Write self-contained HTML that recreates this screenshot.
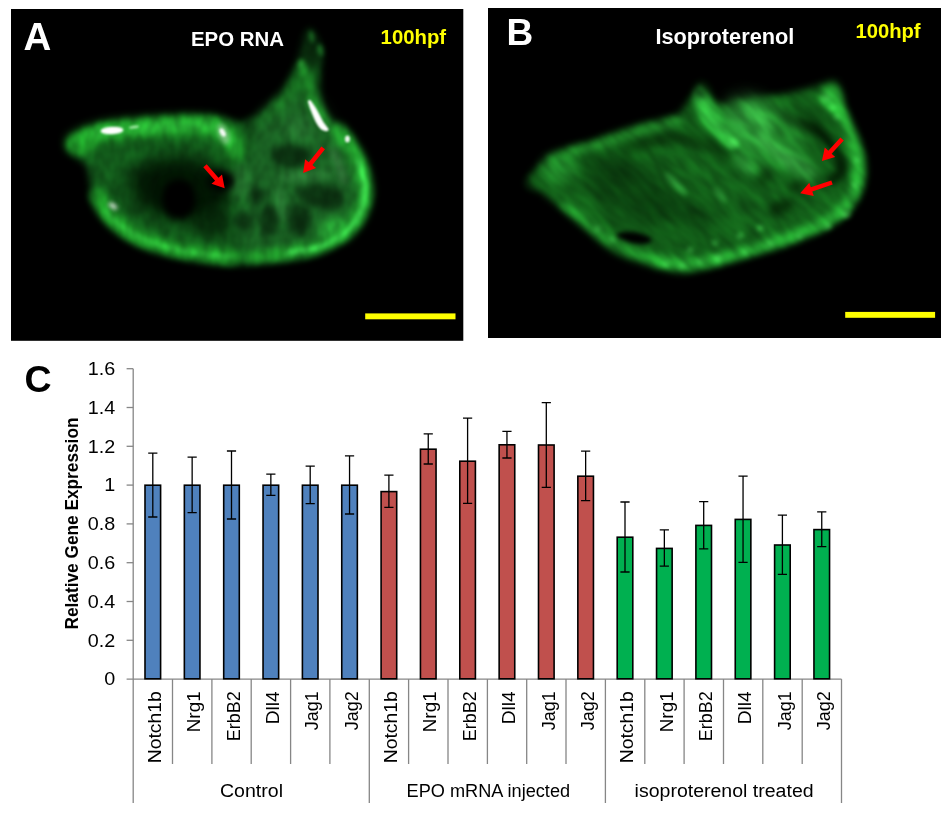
<!DOCTYPE html>
<html lang="en"><head><meta charset="utf-8"><title>Figure</title>
<style>
html,body{margin:0;padding:0;background:#fff;}
svg{display:block;}
text{font-family:"Liberation Sans",sans-serif;}
.b{font-weight:bold;}
</style></head><body>
<svg width="950" height="822" viewBox="0 0 950 822">
<defs>
<filter id="bl1" filterUnits="userSpaceOnUse" x="0" y="0" width="950" height="350" color-interpolation-filters="sRGB"><feGaussianBlur stdDeviation="1"/></filter>
<filter id="bl2" filterUnits="userSpaceOnUse" x="0" y="0" width="950" height="350" color-interpolation-filters="sRGB"><feGaussianBlur stdDeviation="2"/></filter>
<filter id="bl3" filterUnits="userSpaceOnUse" x="0" y="0" width="950" height="350" color-interpolation-filters="sRGB"><feGaussianBlur stdDeviation="3.5"/></filter>
<filter id="bl5" filterUnits="userSpaceOnUse" x="0" y="0" width="950" height="350" color-interpolation-filters="sRGB"><feGaussianBlur stdDeviation="5"/></filter>
<filter id="bl8" filterUnits="userSpaceOnUse" x="0" y="0" width="950" height="350" color-interpolation-filters="sRGB"><feGaussianBlur stdDeviation="8"/></filter>
<filter id="texA" filterUnits="userSpaceOnUse" x="11" y="9" width="453" height="332" color-interpolation-filters="sRGB">
<feTurbulence type="fractalNoise" baseFrequency="0.1 0.06" numOctaves="2" seed="4" result="n"/>
<feColorMatrix in="n" type="matrix" values="0 1 0 0 0  0 1 0 0 0  0 1 0 0 0  0 0 0 0 1" result="g"/>
<feComposite in="SourceGraphic" in2="g" operator="arithmetic" k1="0.6" k2="0.7" k3="0" k4="0" result="c"/>
<feGaussianBlur in="c" stdDeviation="0.8"/>
</filter>
<filter id="texB" filterUnits="userSpaceOnUse" x="350" y="-200" width="700" height="750" color-interpolation-filters="sRGB">
<feTurbulence type="fractalNoise" baseFrequency="0.035 0.1" numOctaves="2" seed="11" result="n"/>
<feColorMatrix in="n" type="matrix" values="0 1 0 0 0  0 1 0 0 0  0 1 0 0 0  0 0 0 0 1" result="g"/>
<feComposite in="SourceGraphic" in2="g" operator="arithmetic" k1="0.7" k2="0.65" k3="0" k4="0" result="c"/>
<feGaussianBlur in="c" stdDeviation="0.8"/>
</filter>
<clipPath id="cA"><rect x="11" y="9" width="452.3" height="331.8"/></clipPath>
<clipPath id="cB"><rect x="488" y="8" width="453" height="330"/></clipPath>
</defs>
<rect width="950" height="822" fill="#fff"/>

<g id="panelA">
<rect x="11" y="9" width="452.3" height="331.8" fill="#000"/>
<g clip-path="url(#cA)"><g filter="url(#texA)">
<path d="M66.0 146.0C65.8 142.7 68.5 139.2 73.0 136.0C77.5 132.8 84.0 129.5 93.0 127.0C102.0 124.5 115.8 122.5 127.0 121.0C138.2 119.5 149.0 118.8 160.0 118.0C171.0 117.2 183.0 116.0 193.0 116.0C203.0 116.0 212.2 117.0 220.0 118.0C227.8 119.0 234.3 122.2 240.0 122.0C245.7 121.8 249.3 120.0 254.0 117.0C258.7 114.0 263.2 108.7 268.0 104.0C272.8 99.3 279.0 94.2 283.0 89.0C287.0 83.8 289.7 77.5 292.0 73.0C294.3 68.5 295.5 66.3 297.0 62.0C298.5 57.7 299.7 51.8 301.0 47.0C302.3 42.2 303.3 36.0 305.0 33.0C306.7 30.0 308.8 27.8 311.0 29.0C313.2 30.2 316.2 36.2 318.0 40.0C319.8 43.8 321.7 46.5 322.0 52.0C322.3 57.5 320.3 66.0 320.0 73.0C319.7 80.0 319.0 87.0 320.0 94.0C321.0 101.0 322.8 109.8 326.0 115.0C329.2 120.2 334.7 121.2 339.0 125.0C343.3 128.8 348.2 132.7 352.0 138.0C355.8 143.3 359.0 150.0 362.0 157.0C365.0 164.0 368.5 173.7 370.0 180.0C371.5 186.3 371.3 190.3 371.0 195.0C370.7 199.7 370.5 202.3 368.0 208.0C365.5 213.7 361.5 222.7 356.0 229.0C350.5 235.3 343.5 241.2 335.0 246.0C326.5 250.8 317.0 255.2 305.0 258.0C293.0 260.8 274.3 261.8 263.0 263.0C251.7 264.2 245.8 265.2 237.0 265.0C228.2 264.8 220.0 263.3 210.0 262.0C200.0 260.7 188.2 259.5 177.0 257.0C165.8 254.5 152.5 250.8 143.0 247.0C133.5 243.2 126.7 239.0 120.0 234.0C113.3 229.0 107.7 222.8 103.0 217.0C98.3 211.2 94.2 205.2 92.0 199.0C89.8 192.8 91.2 185.8 90.0 180.0C88.8 174.2 87.7 168.0 85.0 164.0C82.3 160.0 77.2 159.0 74.0 156.0C70.8 153.0 66.2 149.3 66.0 146.0Z" fill="#12581a" filter="url(#bl3)"/>
<path d="M250.0 130.0C258.3 115.8 278.7 100.0 290.0 95.0C301.3 90.0 310.5 94.2 318.0 100.0C325.5 105.8 328.8 120.0 335.0 130.0C341.2 140.0 350.5 149.2 355.0 160.0C359.5 170.8 363.7 183.3 362.0 195.0C360.3 206.7 355.3 220.8 345.0 230.0C334.7 239.2 315.8 246.3 300.0 250.0C284.2 253.7 260.8 256.2 250.0 252.0C239.2 247.8 236.7 237.0 235.0 225.0C233.3 213.0 237.5 195.8 240.0 180.0C242.5 164.2 241.7 144.2 250.0 130.0Z" fill="#2f7a3a" opacity="0.28" filter="url(#bl8)"/>
<ellipse cx="307" cy="46" rx="16" ry="24" fill="#000" opacity="0.55" filter="url(#bl5)"/>
<ellipse cx="180" cy="188" rx="52" ry="32" fill="#021403" opacity="0.92" filter="url(#bl8)" transform="rotate(6 180 188)"/>
<ellipse cx="183" cy="192" rx="36" ry="22" fill="#021403" opacity="0.6" filter="url(#bl5)" transform="rotate(6 183 192)"/>
<ellipse cx="212" cy="222" rx="18" ry="16" fill="#031a05" opacity="0.7" filter="url(#bl5)"/>
<ellipse cx="291" cy="156" rx="21" ry="12" fill="#08240c" opacity="0.8" filter="url(#bl3)"/>
<ellipse cx="269.5" cy="220" rx="10" ry="16" fill="#08240c" opacity="0.8" filter="url(#bl3)"/>
<ellipse cx="299" cy="220" rx="12" ry="17" fill="#08240c" opacity="0.8" filter="url(#bl3)"/>
<ellipse cx="322" cy="196" rx="24" ry="12" fill="#08240c" opacity="0.8" filter="url(#bl3)" transform="rotate(12 322 196)"/>
<ellipse cx="257" cy="195" rx="8" ry="8" fill="#08240c" opacity="0.8" filter="url(#bl3)"/>
<ellipse cx="244" cy="222" rx="8" ry="11" fill="#08240c" opacity="0.8" filter="url(#bl3)"/>
<path d="M251.0 122.0C251.0 124.2 251.7 130.3 251.0 135.0C250.3 139.7 247.7 147.5 247.0 150.0" fill="none" stroke="#031803" stroke-width="6" stroke-linecap="round" stroke-linejoin="round" opacity="0.5" filter="url(#bl5)"/>
<path d="M76.0 143.0C78.3 141.8 84.3 138.0 90.0 136.0C95.7 134.0 101.7 132.3 110.0 131.0C118.3 129.7 130.0 128.8 140.0 128.0C150.0 127.2 160.3 126.5 170.0 126.0C179.7 125.5 190.0 124.7 198.0 125.0C206.0 125.3 212.7 125.8 218.0 128.0C223.3 130.2 227.2 134.2 230.0 138.0C232.8 141.8 234.2 148.8 235.0 151.0" fill="none" stroke="#1f9a28" stroke-width="19" stroke-linecap="round" stroke-linejoin="round" filter="url(#bl5)"/>
<path d="M76.0 143.0C78.3 141.8 84.3 138.0 90.0 136.0C95.7 134.0 101.7 132.3 110.0 131.0C118.3 129.7 130.0 128.8 140.0 128.0C150.0 127.2 160.3 126.5 170.0 126.0C179.7 125.5 190.0 124.7 198.0 125.0C206.0 125.3 212.7 125.8 218.0 128.0C223.3 130.2 227.2 134.2 230.0 138.0C232.8 141.8 234.2 148.8 235.0 151.0" fill="none" stroke="#25a830" stroke-width="11" stroke-linecap="round" stroke-linejoin="round" opacity="0.8" filter="url(#bl3)"/>
<path d="M90.0 136.0C93.3 135.2 101.7 132.3 110.0 131.0C118.3 129.7 130.0 128.8 140.0 128.0C150.0 127.2 160.3 126.5 170.0 126.0C179.7 125.5 190.0 124.7 198.0 125.0C206.0 125.3 212.7 125.8 218.0 128.0C223.3 130.2 228.0 136.3 230.0 138.0" fill="none" stroke="#30c03c" stroke-width="6" stroke-linecap="round" stroke-linejoin="round" opacity="0.75" filter="url(#bl3)"/>
<path d="M98.0 196.0C99.3 198.5 102.2 206.0 106.0 211.0C109.8 216.0 114.5 221.2 121.0 226.0C127.5 230.8 136.0 236.2 145.0 240.0C154.0 243.8 164.2 246.5 175.0 249.0C185.8 251.5 200.5 253.7 210.0 255.0C219.5 256.3 228.3 256.7 232.0 257.0" fill="none" stroke="#1f9a28" stroke-width="15" stroke-linecap="round" stroke-linejoin="round" filter="url(#bl3)"/>
<ellipse cx="84" cy="144" rx="13" ry="9" fill="#1f9a28" opacity="0.9" filter="url(#bl3)" transform="rotate(-25 84 144)"/>
<path d="M106.0 211.0C108.5 213.5 114.5 221.2 121.0 226.0C127.5 230.8 136.0 236.2 145.0 240.0C154.0 243.8 164.2 246.5 175.0 249.0C185.8 251.5 200.5 253.7 210.0 255.0C219.5 256.3 228.3 256.7 232.0 257.0" fill="none" stroke="#3ad048" stroke-width="3.5" stroke-linecap="round" stroke-linejoin="round" opacity="0.7" filter="url(#bl2)"/>
<path d="M252.0 257.0C257.8 256.3 276.0 254.7 287.0 253.0C298.0 251.3 308.7 250.2 318.0 247.0C327.3 243.8 336.5 238.8 343.0 234.0C349.5 229.2 353.5 223.8 357.0 218.0C360.5 212.2 362.8 205.2 364.0 199.0C365.2 192.8 365.0 187.3 364.0 181.0C363.0 174.7 360.5 167.0 358.0 161.0C355.5 155.0 352.3 150.0 349.0 145.0C345.7 140.0 339.8 133.3 338.0 131.0" fill="none" stroke="#22a02c" stroke-width="12" stroke-linecap="round" stroke-linejoin="round" filter="url(#bl3)"/>
<path d="M343.0 234.0C345.3 231.3 353.5 223.8 357.0 218.0C360.5 212.2 362.8 205.2 364.0 199.0C365.2 192.8 365.0 187.3 364.0 181.0C363.0 174.7 360.5 167.0 358.0 161.0C355.5 155.0 352.3 150.0 349.0 145.0C345.7 140.0 339.8 133.3 338.0 131.0" fill="none" stroke="#26a832" stroke-width="14" stroke-linecap="round" stroke-linejoin="round" opacity="0.5" filter="url(#bl5)"/>
<path d="M287.0 253.0C292.2 252.0 308.7 250.2 318.0 247.0C327.3 243.8 336.5 238.8 343.0 234.0C349.5 229.2 353.5 223.8 357.0 218.0C360.5 212.2 362.8 205.2 364.0 199.0C365.2 192.8 365.0 187.3 364.0 181.0C363.0 174.7 359.0 164.3 358.0 161.0" fill="none" stroke="#48e85a" stroke-width="4" stroke-linecap="round" stroke-linejoin="round" opacity="0.8" filter="url(#bl2)"/>
<ellipse cx="330" cy="228" rx="16" ry="10" fill="#2cb83a" opacity="0.7" filter="url(#bl5)" transform="rotate(-35 330 228)"/>
<ellipse cx="305" cy="176" rx="28" ry="5" fill="#3c9a48" opacity="0.6" filter="url(#bl3)" transform="rotate(-3 305 176)"/>
<ellipse cx="281" cy="204" rx="4" ry="18" fill="#3c9a48" opacity="0.6" filter="url(#bl3)" transform="rotate(-8 281 204)"/>
<ellipse cx="240" cy="182" rx="10" ry="16" fill="#348c3e" opacity="0.5" filter="url(#bl5)"/>
<ellipse cx="300" cy="128" rx="14" ry="12" fill="#348c3e" opacity="0.4" filter="url(#bl5)"/>
<path d="M303.0 70.0C303.8 73.0 306.2 82.3 308.0 88.0C309.8 93.7 311.3 98.7 314.0 104.0C316.7 109.3 322.3 117.3 324.0 120.0" fill="none" stroke="#25a830" stroke-width="10" stroke-linecap="round" stroke-linejoin="round" opacity="0.75" filter="url(#bl3)"/>
<path d="M296.0 82.0C294.2 85.0 289.3 94.5 285.0 100.0C280.7 105.5 272.5 112.5 270.0 115.0" fill="none" stroke="#229a2c" stroke-width="7" stroke-linecap="round" stroke-linejoin="round" opacity="0.5" filter="url(#bl3)"/>
<ellipse cx="179" cy="199" rx="17" ry="20" fill="#000" filter="url(#bl3)"/>
<ellipse cx="221.5" cy="181" rx="13" ry="10.5" fill="#000" filter="url(#bl3)"/>
<ellipse cx="301" cy="64" rx="3" ry="5" fill="#2fae3a" opacity="0.8" filter="url(#bl2)"/>
<ellipse cx="312" cy="37" rx="2.5" ry="6" fill="#249430" opacity="0.8" filter="url(#bl2)" transform="rotate(-15 312 37)"/>
<ellipse cx="320" cy="50" rx="2.5" ry="6" fill="#249430" opacity="0.8" filter="url(#bl2)" transform="rotate(-15 320 50)"/>
</g>
<ellipse cx="112" cy="130.5" rx="11.5" ry="3.8" fill="#fff" filter="url(#bl1)" transform="rotate(-3 112 130.5)"/>
<ellipse cx="134" cy="127" rx="5" ry="1.5" fill="#cfc" opacity="0.7" filter="url(#bl1)" transform="rotate(-8 134 127)"/>
<ellipse cx="223.5" cy="134" rx="5" ry="11" fill="#c8f0c8" opacity="0.5" filter="url(#bl2)" transform="rotate(-20 223.5 134)"/>
<ellipse cx="222.6" cy="132.5" rx="2.4" ry="4.6" fill="#fff" opacity="0.95" filter="url(#bl1)" transform="rotate(-30 222.6 132.5)"/>
<path d="M309.5 101.5C313 106 316 111 319 117C321 122 324 126 327 129.5C324 130 320 127 317 121C314 114 311 108 309.5 101.5Z" stroke="#fff" stroke-width="3.2" stroke-linejoin="round" fill="#fff" filter="url(#bl1)"/>
<ellipse cx="113" cy="206" rx="5" ry="2.5" fill="#fff" opacity="0.8" filter="url(#bl2)" transform="rotate(35 113 206)"/>
<ellipse cx="347.4" cy="139" rx="2.5" ry="3.5" fill="#fff" opacity="0.9" filter="url(#bl1)"/>
<path d="M332.0 150.0C333.2 152.5 337.0 159.7 339.0 165.0C341.0 170.3 343.2 179.2 344.0 182.0" fill="none" stroke="#cfe8cf" stroke-width="3" stroke-linecap="round" stroke-linejoin="round" opacity="0.3" filter="url(#bl3)"/>
</g>
<polygon points="203.3,167.3 215.1,180.7 211.5,183.8 224.7,188.2 222.0,174.6 218.5,177.7 206.7,164.3" fill="#ff0000"/>
<polygon points="321.4,146.5 308.8,162.2 305.1,159.3 303.1,173.0 316.1,168.0 312.4,165.0 325.0,149.3" fill="#ff0000"/>
<rect x="365.2" y="313.4" width="90.3" height="5.9" fill="#ffff00"/>
<text class="b" x="23.4" y="49.8" font-size="38.5" fill="#fff">A</text>
<text class="b" x="191" y="45.9" font-size="21" textLength="93" lengthAdjust="spacingAndGlyphs" fill="#fff">EPO RNA</text>
<text class="b" x="380.6" y="43.8" font-size="20" textLength="65.5" lengthAdjust="spacingAndGlyphs" fill="#ffff00">100hpf</text>
</g>
<g id="panelB">
<rect x="488" y="8" width="453" height="330" fill="#000"/>
<g clip-path="url(#cB)"><g transform="rotate(45 700 175)" filter="url(#texB)"><g transform="rotate(-45 700 175)">
<path d="M526.0 184.0C525.7 179.3 533.8 170.8 540.0 165.0C546.2 159.2 554.8 152.8 563.0 149.0C571.2 145.2 581.2 144.5 589.0 142.0C596.8 139.5 601.3 137.0 610.0 134.0C618.7 131.0 632.3 126.5 641.0 124.0C649.7 121.5 655.7 120.8 662.0 119.0C668.3 117.2 674.3 116.5 679.0 113.0C683.7 109.5 686.8 103.0 690.0 98.0C693.2 93.0 695.3 85.2 698.0 83.0C700.7 80.8 703.3 82.3 706.0 85.0C708.7 87.7 711.3 95.8 714.0 99.0C716.7 102.2 715.3 104.2 722.0 104.0C728.7 103.8 743.5 99.7 754.0 98.0C764.5 96.3 774.5 96.0 785.0 94.0C795.5 92.0 808.8 88.2 817.0 86.0C825.2 83.8 829.8 79.8 834.0 81.0C838.2 82.2 839.7 86.0 842.0 93.0C844.3 100.0 844.8 114.5 848.0 123.0C851.2 131.5 858.0 136.5 861.0 144.0C864.0 151.5 865.7 160.7 866.0 168.0C866.3 175.3 865.0 181.8 863.0 188.0C861.0 194.2 857.8 199.8 854.0 205.0C850.2 210.2 844.5 215.2 840.0 219.0C835.5 222.8 830.8 225.8 827.0 228.0C823.2 230.2 824.0 229.2 817.0 232.0C810.0 234.8 795.5 241.3 785.0 245.0C774.5 248.7 764.5 250.8 754.0 254.0C743.5 257.2 732.7 261.0 722.0 264.0C711.3 267.0 697.8 270.7 690.0 272.0C682.2 273.3 682.8 273.3 675.0 272.0C667.2 270.7 653.5 267.5 643.0 264.0C632.5 260.5 620.8 256.2 612.0 251.0C603.2 245.8 597.3 239.2 590.0 233.0C582.7 226.8 576.0 220.7 568.0 214.0C560.0 207.3 549.0 198.0 542.0 193.0C535.0 188.0 526.3 188.7 526.0 184.0Z" fill="#135f19" filter="url(#bl3)"/>
<ellipse cx="698" cy="88" rx="12" ry="12" fill="#000" opacity="0.5" filter="url(#bl5)"/>
<ellipse cx="528" cy="185" rx="8" ry="8" fill="#000" opacity="0.4" filter="url(#bl5)"/>
<ellipse cx="628" cy="188" rx="50" ry="27" fill="#052808" opacity="0.55" filter="url(#bl8)" transform="rotate(35 628 188)"/>
<ellipse cx="690" cy="215" rx="30" ry="14" fill="#052808" opacity="0.45" filter="url(#bl8)" transform="rotate(20 690 215)"/>
<ellipse cx="800" cy="118" rx="22" ry="9" fill="#041f06" opacity="0.45" filter="url(#bl5)" transform="rotate(15 800 118)"/>
<path d="M630.0 148.0C634.2 146.8 646.7 142.7 655.0 141.0C663.3 139.3 672.5 138.0 680.0 138.0C687.5 138.0 694.7 139.7 700.0 141.0C705.3 142.3 707.7 143.5 712.0 146.0C716.3 148.5 723.7 154.3 726.0 156.0" fill="none" stroke="#042004" stroke-width="9" stroke-linecap="round" stroke-linejoin="round" opacity="0.7" filter="url(#bl5)"/>
<path d="M789.0 121.0C793.7 122.5 809.3 125.2 817.0 130.0C824.7 134.8 830.8 143.3 835.0 150.0C839.2 156.7 842.5 165.0 842.0 170.0C841.5 175.0 833.7 178.3 832.0 180.0" fill="none" stroke="#021802" stroke-width="10" stroke-linecap="round" stroke-linejoin="round" opacity="0.95" filter="url(#bl3)"/>
<ellipse cx="781" cy="207" rx="13" ry="7" fill="#052505" opacity="0.8" filter="url(#bl3)" transform="rotate(-20 781 207)"/>
<ellipse cx="796" cy="186" rx="9" ry="5" fill="#052505" opacity="0.7" filter="url(#bl3)" transform="rotate(-20 796 186)"/>
<ellipse cx="765" cy="176" rx="6" ry="12" fill="#052505" opacity="0.55" filter="url(#bl3)" transform="rotate(30 765 176)"/>
<ellipse cx="634" cy="238" rx="18" ry="6" fill="#000" filter="url(#bl2)" transform="rotate(8 634 238)"/>
<ellipse cx="559" cy="168" rx="18" ry="15" fill="#2cb038" opacity="0.55" filter="url(#bl5)"/>
<ellipse cx="748" cy="120" rx="26" ry="24" fill="#3aa846" opacity="0.6" filter="url(#bl8)" transform="rotate(20 748 120)"/>
<ellipse cx="798" cy="165" rx="22" ry="9" fill="#44c050" opacity="0.6" filter="url(#bl5)" transform="rotate(35 798 165)"/>
<ellipse cx="745" cy="165" rx="14" ry="6" fill="#3eb84a" opacity="0.55" filter="url(#bl3)" transform="rotate(40 745 165)"/>
<ellipse cx="676" cy="184" rx="16" ry="3" fill="#3eb84a" opacity="0.6" filter="url(#bl2)" transform="rotate(45 676 184)"/>
<ellipse cx="720" cy="195" rx="10" ry="3" fill="#3eb84a" opacity="0.5" filter="url(#bl2)" transform="rotate(50 720 195)"/>
<path d="M692.0 97.0C692.0 91.3 697.2 85.2 700.0 85.0C702.8 84.8 705.3 91.0 709.0 96.0C712.7 101.0 717.0 107.7 722.0 115.0C727.0 122.3 737.2 134.3 739.0 140.0C740.8 145.7 736.8 149.5 733.0 149.0C729.2 148.5 721.5 142.0 716.0 137.0C710.5 132.0 704.0 125.7 700.0 119.0C696.0 112.3 692.0 102.7 692.0 97.0Z" fill="#2fb83c" opacity="0.8" filter="url(#bl2)"/>
<path d="M700.0 97.0C702.0 100.8 707.3 113.2 712.0 120.0C716.7 126.8 724.0 134.2 728.0 138.0C732.0 141.8 734.7 142.2 736.0 143.0" fill="none" stroke="#3fd04c" stroke-width="5" stroke-linecap="round" stroke-linejoin="round" opacity="0.7" filter="url(#bl3)"/>
<ellipse cx="699" cy="90" rx="9" ry="10" fill="#000" opacity="0.45" filter="url(#bl3)"/>
<ellipse cx="768" cy="138" rx="36" ry="30" fill="#2fa83a" opacity="0.5" filter="url(#bl8)"/>
<ellipse cx="832" cy="99" rx="10" ry="13" fill="#30b83c" opacity="0.7" filter="url(#bl3)" transform="rotate(-20 832 99)"/>
<ellipse cx="775" cy="150" rx="26" ry="6" fill="#4ad056" opacity="0.6" filter="url(#bl3)" transform="rotate(38 775 150)"/>
<ellipse cx="760" cy="120" rx="20" ry="5" fill="#44c850" opacity="0.5" filter="url(#bl3)" transform="rotate(50 760 120)"/>
<ellipse cx="733" cy="143" rx="4.5" ry="4.5" fill="#4ce058" opacity="0.85" filter="url(#bl2)"/>
<path d="M570.0 152.0C575.0 150.7 590.0 147.0 600.0 144.0C610.0 141.0 620.0 137.0 630.0 134.0C640.0 131.0 651.7 128.3 660.0 126.0C668.3 123.7 676.7 121.0 680.0 120.0" fill="none" stroke="#30b43a" stroke-width="7" stroke-linecap="round" stroke-linejoin="round" opacity="0.6" filter="url(#bl3)"/>
<path d="M826.0 96.0C828.2 98.3 834.8 103.5 839.0 110.0C843.2 116.5 847.8 125.8 851.0 135.0C854.2 144.2 857.3 155.8 858.0 165.0C858.7 174.2 857.5 182.7 855.0 190.0C852.5 197.3 848.8 203.2 843.0 209.0C837.2 214.8 829.7 220.0 820.0 225.0C810.3 230.0 796.0 235.0 785.0 239.0C774.0 243.0 764.5 245.8 754.0 249.0C743.5 252.2 732.7 255.5 722.0 258.0C711.3 260.5 700.3 263.5 690.0 264.0C679.7 264.5 665.0 261.5 660.0 261.0" fill="none" stroke="#2ab436" stroke-width="11" stroke-linecap="round" stroke-linejoin="round" opacity="0.9" filter="url(#bl3)"/>
<path d="M660.0 261.0C655.0 259.3 639.2 255.0 630.0 251.0C620.8 247.0 612.5 242.0 605.0 237.0C597.5 232.0 591.7 226.3 585.0 221.0C578.3 215.7 568.3 207.7 565.0 205.0" fill="none" stroke="#2ab436" stroke-width="8" stroke-linecap="round" stroke-linejoin="round" opacity="0.75" filter="url(#bl3)"/>
<ellipse cx="826" cy="98" rx="4.5" ry="3.6" fill="#4cdc58" opacity="0.7" filter="url(#bl2)"/>
<ellipse cx="833" cy="107" rx="3" ry="2.4000000000000004" fill="#4cdc58" opacity="0.7" filter="url(#bl2)"/>
<ellipse cx="837" cy="117" rx="3" ry="2.4000000000000004" fill="#4cdc58" opacity="0.7" filter="url(#bl2)"/>
<ellipse cx="846" cy="214" rx="4.5" ry="3.6" fill="#4cdc58" opacity="0.7" filter="url(#bl2)"/>
<ellipse cx="828" cy="226" rx="3.5" ry="2.8000000000000003" fill="#4cdc58" opacity="0.7" filter="url(#bl2)"/>
<ellipse cx="800" cy="236" rx="3" ry="2.4000000000000004" fill="#4cdc58" opacity="0.7" filter="url(#bl2)"/>
<ellipse cx="770" cy="244" rx="3.5" ry="2.8000000000000003" fill="#4cdc58" opacity="0.7" filter="url(#bl2)"/>
<ellipse cx="745" cy="252" rx="3" ry="2.4000000000000004" fill="#4cdc58" opacity="0.7" filter="url(#bl2)"/>
<ellipse cx="718" cy="258" rx="4" ry="3.2" fill="#4cdc58" opacity="0.7" filter="url(#bl2)"/>
<ellipse cx="700" cy="262" rx="3" ry="2.4000000000000004" fill="#4cdc58" opacity="0.7" filter="url(#bl2)"/>
<ellipse cx="682" cy="266" rx="3.5" ry="2.8000000000000003" fill="#4cdc58" opacity="0.7" filter="url(#bl2)"/>
<ellipse cx="666" cy="264" rx="3" ry="2.4000000000000004" fill="#4cdc58" opacity="0.7" filter="url(#bl2)"/>
<ellipse cx="740" cy="236" rx="3" ry="2.4000000000000004" fill="#4cdc58" opacity="0.7" filter="url(#bl2)"/>
<ellipse cx="715" cy="243" rx="3" ry="2.4000000000000004" fill="#4cdc58" opacity="0.7" filter="url(#bl2)"/>
<ellipse cx="760" cy="228" rx="3" ry="2.4000000000000004" fill="#4cdc58" opacity="0.7" filter="url(#bl2)"/>
<ellipse cx="690" cy="250" rx="3" ry="2.4000000000000004" fill="#4cdc58" opacity="0.7" filter="url(#bl2)"/>
<ellipse cx="597" cy="229" rx="3.5" ry="2.8000000000000003" fill="#4cdc58" opacity="0.7" filter="url(#bl2)"/>
<ellipse cx="612" cy="240" rx="3" ry="2.4000000000000004" fill="#4cdc58" opacity="0.7" filter="url(#bl2)"/>
<ellipse cx="857" cy="160" rx="3" ry="2.4000000000000004" fill="#4cdc58" opacity="0.7" filter="url(#bl2)"/>
<ellipse cx="855" cy="185" rx="3" ry="2.4000000000000004" fill="#4cdc58" opacity="0.7" filter="url(#bl2)"/>
</g></g></g>
<polygon points="840.4,137.4 828.3,150.7 824.8,147.5 821.9,161.1 835.2,156.9 831.6,153.7 843.8,140.4" fill="#ff0000"/>
<polygon points="831.3,180.4 810.8,187.3 809.3,182.8 800.2,193.3 813.8,196.1 812.3,191.6 832.7,184.6" fill="#ff0000"/>
<rect x="845.2" y="311.9" width="89.9" height="5.9" fill="#ffff00"/>
<text class="b" x="506.6" y="44.9" font-size="37" fill="#fff">B</text>
<text class="b" x="655.4" y="43.9" font-size="21.6" textLength="139" lengthAdjust="spacingAndGlyphs" fill="#fff">Isoproterenol</text>
<text class="b" x="855.4" y="38" font-size="20" textLength="65.2" lengthAdjust="spacingAndGlyphs" fill="#ffff00">100hpf</text>
</g>
<g id="chart">
<g stroke="#868686" stroke-width="1.3" fill="none">
<line x1="133.2" y1="368.7" x2="133.2" y2="803"/>
<line x1="126.6" y1="679.1" x2="841.5" y2="679.1"/>
<line x1="126.6" y1="640.3" x2="133.2" y2="640.3"/>
<line x1="126.6" y1="601.5" x2="133.2" y2="601.5"/>
<line x1="126.6" y1="562.7" x2="133.2" y2="562.7"/>
<line x1="126.6" y1="523.9" x2="133.2" y2="523.9"/>
<line x1="126.6" y1="485.1" x2="133.2" y2="485.1"/>
<line x1="126.6" y1="446.3" x2="133.2" y2="446.3"/>
<line x1="126.6" y1="407.5" x2="133.2" y2="407.5"/>
<line x1="126.6" y1="368.7" x2="133.2" y2="368.7"/>
<line x1="172.5" y1="679.1" x2="172.5" y2="764"/>
<line x1="211.9" y1="679.1" x2="211.9" y2="764"/>
<line x1="251.2" y1="679.1" x2="251.2" y2="764"/>
<line x1="290.6" y1="679.1" x2="290.6" y2="764"/>
<line x1="329.9" y1="679.1" x2="329.9" y2="764"/>
<line x1="369.3" y1="679.1" x2="369.3" y2="803"/>
<line x1="408.6" y1="679.1" x2="408.6" y2="764"/>
<line x1="448.0" y1="679.1" x2="448.0" y2="764"/>
<line x1="487.4" y1="679.1" x2="487.4" y2="764"/>
<line x1="526.7" y1="679.1" x2="526.7" y2="764"/>
<line x1="566.0" y1="679.1" x2="566.0" y2="764"/>
<line x1="605.4" y1="679.1" x2="605.4" y2="803"/>
<line x1="644.8" y1="679.1" x2="644.8" y2="764"/>
<line x1="684.1" y1="679.1" x2="684.1" y2="764"/>
<line x1="723.5" y1="679.1" x2="723.5" y2="764"/>
<line x1="762.8" y1="679.1" x2="762.8" y2="764"/>
<line x1="802.2" y1="679.1" x2="802.2" y2="764"/>
<line x1="841.5" y1="679.1" x2="841.5" y2="803"/>
</g>
<rect x="145.00" y="485.2" width="15.6" height="193.6" fill="#4f81bd" stroke="#000" stroke-width="1.6"/>
<path d="M152.80 453.2V517.0M148.20 453.2h9.2M148.20 517.0h9.2" stroke="#000" stroke-width="1.3" fill="none"/>
<rect x="184.35" y="485.2" width="15.6" height="193.6" fill="#4f81bd" stroke="#000" stroke-width="1.6"/>
<path d="M192.15 457.2V512.6M187.55 457.2h9.2M187.55 512.6h9.2" stroke="#000" stroke-width="1.3" fill="none"/>
<rect x="223.70" y="485.2" width="15.6" height="193.6" fill="#4f81bd" stroke="#000" stroke-width="1.6"/>
<path d="M231.50 451.0V519.0M226.90 451.0h9.2M226.90 519.0h9.2" stroke="#000" stroke-width="1.3" fill="none"/>
<rect x="263.05" y="485.2" width="15.6" height="193.6" fill="#4f81bd" stroke="#000" stroke-width="1.6"/>
<path d="M270.85 474.2V495.4M266.25 474.2h9.2M266.25 495.4h9.2" stroke="#000" stroke-width="1.3" fill="none"/>
<rect x="302.40" y="485.2" width="15.6" height="193.6" fill="#4f81bd" stroke="#000" stroke-width="1.6"/>
<path d="M310.20 466.2V503.6M305.60 466.2h9.2M305.60 503.6h9.2" stroke="#000" stroke-width="1.3" fill="none"/>
<rect x="341.75" y="485.2" width="15.6" height="193.6" fill="#4f81bd" stroke="#000" stroke-width="1.6"/>
<path d="M349.55 455.8V514.0M344.95 455.8h9.2M344.95 514.0h9.2" stroke="#000" stroke-width="1.3" fill="none"/>
<rect x="381.10" y="491.6" width="15.6" height="187.2" fill="#c0504d" stroke="#000" stroke-width="1.6"/>
<path d="M388.90 475.2V507.4M384.30 475.2h9.2M384.30 507.4h9.2" stroke="#000" stroke-width="1.3" fill="none"/>
<rect x="420.45" y="449.2" width="15.6" height="229.6" fill="#c0504d" stroke="#000" stroke-width="1.6"/>
<path d="M428.25 433.8V464.0M423.65 433.8h9.2M423.65 464.0h9.2" stroke="#000" stroke-width="1.3" fill="none"/>
<rect x="459.80" y="461.2" width="15.6" height="217.6" fill="#c0504d" stroke="#000" stroke-width="1.6"/>
<path d="M467.60 418.2V503.4M463.00 418.2h9.2M463.00 503.4h9.2" stroke="#000" stroke-width="1.3" fill="none"/>
<rect x="499.15" y="444.8" width="15.6" height="234.0" fill="#c0504d" stroke="#000" stroke-width="1.6"/>
<path d="M506.95 431.4V458.0M502.35 431.4h9.2M502.35 458.0h9.2" stroke="#000" stroke-width="1.3" fill="none"/>
<rect x="538.50" y="445.0" width="15.6" height="233.8" fill="#c0504d" stroke="#000" stroke-width="1.6"/>
<path d="M546.30 402.6V487.4M541.70 402.6h9.2M541.70 487.4h9.2" stroke="#000" stroke-width="1.3" fill="none"/>
<rect x="577.85" y="476.2" width="15.6" height="202.6" fill="#c0504d" stroke="#000" stroke-width="1.6"/>
<path d="M585.65 451.2V500.6M581.05 451.2h9.2M581.05 500.6h9.2" stroke="#000" stroke-width="1.3" fill="none"/>
<rect x="617.20" y="537.2" width="15.6" height="141.6" fill="#00b050" stroke="#000" stroke-width="1.6"/>
<path d="M625.00 502.0V572.0M620.40 502.0h9.2M620.40 572.0h9.2" stroke="#000" stroke-width="1.3" fill="none"/>
<rect x="656.55" y="548.4" width="15.6" height="130.4" fill="#00b050" stroke="#000" stroke-width="1.6"/>
<path d="M664.35 529.8V566.2M659.75 529.8h9.2M659.75 566.2h9.2" stroke="#000" stroke-width="1.3" fill="none"/>
<rect x="695.90" y="525.4" width="15.6" height="153.4" fill="#00b050" stroke="#000" stroke-width="1.6"/>
<path d="M703.70 501.6V548.8M699.10 501.6h9.2M699.10 548.8h9.2" stroke="#000" stroke-width="1.3" fill="none"/>
<rect x="735.25" y="519.4" width="15.6" height="159.4" fill="#00b050" stroke="#000" stroke-width="1.6"/>
<path d="M743.05 476.2V562.4M738.45 476.2h9.2M738.45 562.4h9.2" stroke="#000" stroke-width="1.3" fill="none"/>
<rect x="774.60" y="545.0" width="15.6" height="133.8" fill="#00b050" stroke="#000" stroke-width="1.6"/>
<path d="M782.40 515.2V574.4M777.80 515.2h9.2M777.80 574.4h9.2" stroke="#000" stroke-width="1.3" fill="none"/>
<rect x="813.95" y="529.6" width="15.6" height="149.2" fill="#00b050" stroke="#000" stroke-width="1.6"/>
<path d="M821.75 511.8V546.6M817.15 511.8h9.2M817.15 546.6h9.2" stroke="#000" stroke-width="1.3" fill="none"/>
<text x="104.2" y="685.4" font-size="17.8" textLength="11" lengthAdjust="spacingAndGlyphs" fill="#000">0</text>
<text x="87.7" y="646.6" font-size="17.8" textLength="27.5" lengthAdjust="spacingAndGlyphs" fill="#000">0.2</text>
<text x="87.7" y="607.8" font-size="17.8" textLength="27.5" lengthAdjust="spacingAndGlyphs" fill="#000">0.4</text>
<text x="87.7" y="569.0" font-size="17.8" textLength="27.5" lengthAdjust="spacingAndGlyphs" fill="#000">0.6</text>
<text x="87.7" y="530.2" font-size="17.8" textLength="27.5" lengthAdjust="spacingAndGlyphs" fill="#000">0.8</text>
<text x="104.2" y="491.4" font-size="17.8" textLength="11" lengthAdjust="spacingAndGlyphs" fill="#000">1</text>
<text x="87.7" y="452.6" font-size="17.8" textLength="27.5" lengthAdjust="spacingAndGlyphs" fill="#000">1.2</text>
<text x="87.7" y="413.8" font-size="17.8" textLength="27.5" lengthAdjust="spacingAndGlyphs" fill="#000">1.4</text>
<text x="87.7" y="375.0" font-size="17.8" textLength="27.5" lengthAdjust="spacingAndGlyphs" fill="#000">1.6</text>
<text class="b" transform="translate(77.6 629.5) rotate(-90)" font-size="17.5" textLength="212" lengthAdjust="spacingAndGlyphs" fill="#000">Relative Gene Expression</text>
<text transform="translate(161.00 763.3) rotate(-90)" font-size="18" textLength="72" lengthAdjust="spacingAndGlyphs" fill="#000">Notch1b</text>
<text transform="translate(200.35 732.3) rotate(-90)" font-size="18" textLength="41" lengthAdjust="spacingAndGlyphs" fill="#000">Nrg1</text>
<text transform="translate(239.70 741.3) rotate(-90)" font-size="18" textLength="50" lengthAdjust="spacingAndGlyphs" fill="#000">ErbB2</text>
<text transform="translate(279.05 724.3) rotate(-90)" font-size="18" textLength="33" lengthAdjust="spacingAndGlyphs" fill="#000">Dll4</text>
<text transform="translate(318.40 730.3) rotate(-90)" font-size="18" textLength="39" lengthAdjust="spacingAndGlyphs" fill="#000">Jag1</text>
<text transform="translate(357.75 730.3) rotate(-90)" font-size="18" textLength="39" lengthAdjust="spacingAndGlyphs" fill="#000">Jag2</text>
<text transform="translate(397.10 763.3) rotate(-90)" font-size="18" textLength="72" lengthAdjust="spacingAndGlyphs" fill="#000">Notch1b</text>
<text transform="translate(436.45 732.3) rotate(-90)" font-size="18" textLength="41" lengthAdjust="spacingAndGlyphs" fill="#000">Nrg1</text>
<text transform="translate(475.80 741.3) rotate(-90)" font-size="18" textLength="50" lengthAdjust="spacingAndGlyphs" fill="#000">ErbB2</text>
<text transform="translate(515.15 724.3) rotate(-90)" font-size="18" textLength="33" lengthAdjust="spacingAndGlyphs" fill="#000">Dll4</text>
<text transform="translate(554.50 730.3) rotate(-90)" font-size="18" textLength="39" lengthAdjust="spacingAndGlyphs" fill="#000">Jag1</text>
<text transform="translate(593.85 730.3) rotate(-90)" font-size="18" textLength="39" lengthAdjust="spacingAndGlyphs" fill="#000">Jag2</text>
<text transform="translate(633.20 763.3) rotate(-90)" font-size="18" textLength="72" lengthAdjust="spacingAndGlyphs" fill="#000">Notch1b</text>
<text transform="translate(672.55 732.3) rotate(-90)" font-size="18" textLength="41" lengthAdjust="spacingAndGlyphs" fill="#000">Nrg1</text>
<text transform="translate(711.90 741.3) rotate(-90)" font-size="18" textLength="50" lengthAdjust="spacingAndGlyphs" fill="#000">ErbB2</text>
<text transform="translate(751.25 724.3) rotate(-90)" font-size="18" textLength="33" lengthAdjust="spacingAndGlyphs" fill="#000">Dll4</text>
<text transform="translate(790.60 730.3) rotate(-90)" font-size="18" textLength="39" lengthAdjust="spacingAndGlyphs" fill="#000">Jag1</text>
<text transform="translate(829.95 730.3) rotate(-90)" font-size="18" textLength="39" lengthAdjust="spacingAndGlyphs" fill="#000">Jag2</text>
<text x="220" y="796.8" font-size="18" textLength="63" lengthAdjust="spacingAndGlyphs" fill="#000">Control</text>
<text x="406.6" y="796.8" font-size="18" textLength="163.5" lengthAdjust="spacingAndGlyphs" fill="#000">EPO mRNA injected</text>
<text x="634.6" y="796.8" font-size="18" textLength="179" lengthAdjust="spacingAndGlyphs" fill="#000">isoproterenol treated</text>
<text class="b" x="24.6" y="392.4" font-size="37.5" fill="#000">C</text>
</g>
</svg></body></html>
